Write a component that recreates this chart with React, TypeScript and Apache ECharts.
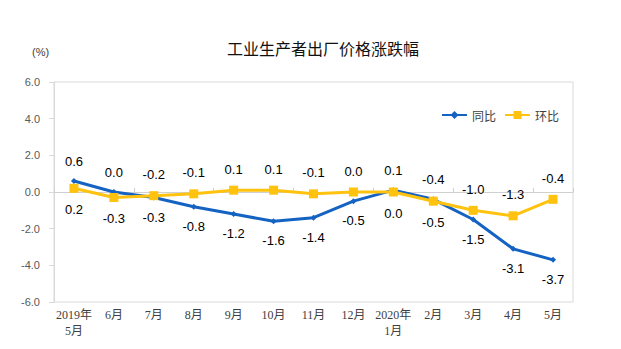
import React, { useEffect, useRef } from "react";
import * as echarts from "echarts";

const categories = ["2019年\n5月", "6月", "7月", "8月", "9月", "10月", "11月", "12月", "2020年\n1月", "2月", "3月", "4月", "5月"];
const yoy = [0.6, 0.0, -0.3, -0.8, -1.2, -1.6, -1.4, -0.5, 0.1, -0.4, -1.5, -3.1, -3.7];
const mom = [0.2, -0.3, -0.2, -0.1, 0.1, 0.1, -0.1, 0.0, 0.0, -0.5, -1.0, -1.3, -0.4];
const seriesNames = ["同比", "环比"];
const title = "工业生产者出厂价格涨跌幅";
const unit = "(%)";

const BLUE = "#1463C2";
const YELLOW = "#FFC20E";
const SANS = "'Liberation Sans', Arial, 'Noto Sans CJK SC', sans-serif";
const SERIF = "'Liberation Serif', 'DejaVu Serif', 'Noto Sans CJK SC', serif";

function withLabels(values: number[], other: number[]) {
  return values.map((v, i) => ({
    value: v,
    label: { position: v > other[i] ? "top" : "bottom" },
  }));
}

export default function App() {
  const ref = useRef<HTMLDivElement>(null);
  useEffect(() => {
    if (!ref.current) return;
    const chart = echarts.init(ref.current, null, { renderer: "svg" });
    const labelStyle = {
      show: true,
      distance: 10,
      color: "#000",
      fontSize: 13,
      fontFamily: SANS,
      formatter: (p: any) => Number(p.value).toFixed(1),
    };
    chart.setOption({
      animation: false,
      backgroundColor: "#fff",
      title: {
        text: title,
        left: 318,
        textAlign: "center",
        top: 35,
        textStyle: { fontSize: 16, fontWeight: "normal", color: "#111", fontFamily: "'Noto Sans CJK SC', sans-serif" },
      },
      graphic: [
        {
          type: "text",
          left: 32,
          top: 46,
          style: { text: unit, fontSize: 11, fill: "#404040", fontFamily: SANS },
        },
      ],
      legend: {
        data: [
          { name: seriesNames[0] },
          { name: seriesNames[1] },
        ],
        right: 57,
        top: 104,
        itemWidth: 25,
        itemHeight: 10,
        itemGap: 8,
        textStyle: { fontSize: 12, color: "#404040", fontFamily: "'Noto Sans CJK SC', sans-serif" },
      },
      grid: {
        left: 54,
        right: 48,
        top: 82,
        bottom: 47,
        show: true,
        borderColor: "#d9d9d9",
        borderWidth: 1,
      },
      xAxis: [
        {
          type: "category",
          data: categories,
          boundaryGap: true,
          axisLine: { onZero: true, lineStyle: { color: "#d0d0d0", width: 1 } },
          axisTick: { show: true, inside: true, length: 4, lineStyle: { color: "#d0d0d0" } },
          axisLabel: { show: false },
          splitLine: { show: false },
        },
        {
          type: "category",
          data: categories,
          position: "bottom",
          boundaryGap: true,
          axisLine: { show: false, onZero: false },
          axisTick: { show: false },
          axisLabel: {
            show: true,
            margin: 5,
            interval: 0,
            fontSize: 12,
            lineHeight: 16,
            color: "#404040",
            fontFamily: SERIF,
          },
          splitLine: { show: false },
        },
      ],
      yAxis: {
        type: "value",
        min: -6,
        max: 6,
        interval: 2,
        axisLine: { show: true, lineStyle: { color: "#d9d9d9" } },
        axisTick: { show: true, length: 5, lineStyle: { color: "#d9d9d9" } },
        splitLine: { show: false },
        axisLabel: {
          margin: 14,
          fontSize: 11,
          color: "#595959",
          fontFamily: SANS,
          formatter: (v: number) => v.toFixed(1),
        },
      },
      series: [
        {
          name: seriesNames[0],
          type: "line",
          xAxisIndex: 0,
          data: withLabels(yoy, mom),
          symbol: "diamond",
          symbolSize: 6,
          color: BLUE,
          lineStyle: { width: 3, color: BLUE },
          itemStyle: { color: BLUE },
          label: labelStyle,
          z: 3,
        },
        {
          name: seriesNames[1],
          type: "line",
          xAxisIndex: 0,
          data: withLabels(mom, yoy),
          symbol: "rect",
          symbolSize: 9,
          color: YELLOW,
          lineStyle: { width: 3, color: YELLOW },
          itemStyle: { color: YELLOW },
          label: labelStyle,
          z: 4,
        },
      ],
    });
    return () => chart.dispose();
  }, []);
  return <div ref={ref} style={{ width: 621, height: 349, position: "absolute", left: 0, top: 0 }} />;
}
